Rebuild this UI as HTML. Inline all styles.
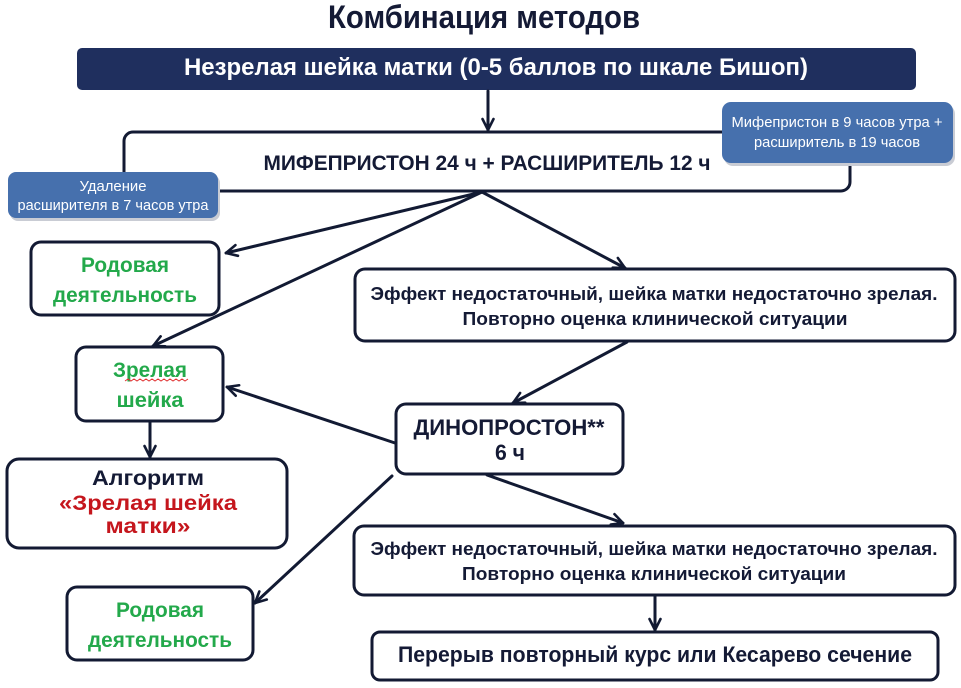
<!DOCTYPE html>
<html>
<head>
<meta charset="utf-8">
<style>
  html,body{margin:0;padding:0;background:#ffffff;}
  svg{display:block;}
  text{font-family:"Liberation Sans", Arial, sans-serif;font-weight:bold;}
  text.n{font-weight:normal;}
</style>
</head>
<body>
<svg width="961" height="688" viewBox="0 0 961 688" xmlns="http://www.w3.org/2000/svg">
  <defs>
    <marker id="ah" viewBox="0 0 14 14" refX="12.5" refY="7" markerWidth="14" markerHeight="14" markerUnits="userSpaceOnUse" orient="auto">
      <path d="M1.5,1.5 L12.5,7 L1.5,12.5" fill="none" stroke="#121a33" stroke-width="2.6" stroke-linecap="round" stroke-linejoin="round"/>
    </marker>
  </defs>
  <rect x="0" y="0" width="961" height="688" fill="#ffffff"/>

  <!-- Title -->
  <text x="484" y="28" font-size="32" fill="#141a35" text-anchor="middle" textLength="312" lengthAdjust="spacingAndGlyphs">Комбинация методов</text>

  <!-- Banner -->
  <rect x="77" y="48" width="839" height="42" rx="5" fill="#1f2f5e"/>
  <text x="496" y="75" font-size="24" fill="#ffffff" text-anchor="middle" textLength="624" lengthAdjust="spacingAndGlyphs">Незрелая шейка матки (0-5 баллов по шкале Бишоп)</text>

  <!-- Main box -->
  <rect x="124" y="132" width="726" height="59" rx="9" fill="#ffffff" stroke="#131a33" stroke-width="3"/>
  <text x="487" y="170" font-size="21" fill="#141a35" text-anchor="middle" textLength="447" lengthAdjust="spacingAndGlyphs">МИФЕПРИСТОН 24 ч + РАСШИРИТЕЛЬ 12 ч</text>

  <!-- Right blue box -->
  <rect x="724" y="105" width="231" height="61" rx="9" fill="#c9ccd4"/>
  <rect x="722" y="102" width="231" height="61" rx="9" fill="#4670ad"/>
  <text class="n" x="837" y="127" font-size="15" fill="#ffffff" text-anchor="middle" textLength="211" lengthAdjust="spacingAndGlyphs">Мифепристон в 9 часов утра +</text>
  <text class="n" x="837" y="147" font-size="15" fill="#ffffff" text-anchor="middle" textLength="166" lengthAdjust="spacingAndGlyphs">расширитель в 19 часов</text>

  <!-- Left blue box -->
  <rect x="10" y="175" width="210" height="46" rx="8" fill="#c9ccd4"/>
  <rect x="8" y="172" width="210" height="46" rx="8" fill="#4670ad"/>
  <text class="n" x="113" y="191" font-size="15" fill="#ffffff" text-anchor="middle" textLength="67" lengthAdjust="spacingAndGlyphs">Удаление</text>
  <text class="n" x="113" y="210" font-size="15" fill="#ffffff" text-anchor="middle" textLength="191" lengthAdjust="spacingAndGlyphs">расширителя в 7 часов утра</text>

  <!-- Родовая 1 -->
  <rect x="31" y="242" width="188" height="73" rx="10" fill="#ffffff" stroke="#131a33" stroke-width="3"/>
  <text x="125" y="272" font-size="21" fill="#23a94b" text-anchor="middle" textLength="88" lengthAdjust="spacingAndGlyphs">Родовая</text>
  <text x="125" y="302" font-size="21" fill="#23a94b" text-anchor="middle" textLength="144" lengthAdjust="spacingAndGlyphs">деятельность</text>

  <!-- Effect 1 -->
  <rect x="355" y="269" width="600" height="72" rx="10" fill="#ffffff" stroke="#131a33" stroke-width="3"/>
  <text x="654" y="300" font-size="18" fill="#141a35" text-anchor="middle" textLength="567" lengthAdjust="spacingAndGlyphs">Эффект недостаточный, шейка матки недостаточно зрелая.</text>
  <text x="655" y="325" font-size="18" fill="#141a35" text-anchor="middle" textLength="385" lengthAdjust="spacingAndGlyphs">Повторно оценка клинической ситуации</text>

  <!-- Зрелая шейка -->
  <rect x="76" y="347" width="147" height="74" rx="10" fill="#ffffff" stroke="#131a33" stroke-width="3"/>
  <text x="150" y="377" font-size="21" fill="#23a94b" text-anchor="middle" textLength="74" lengthAdjust="spacingAndGlyphs">Зрелая</text>
  <path d="M125,381 l3,-2 l3,2 l3,-2 l3,2 l3,-2 l3,2 l3,-2 l3,2 l3,-2 l3,2 l3,-2 l3,2 l3,-2 l3,2 l3,-2 l3,2 l3,-2 l3,2 l3,-2 l3,2 l3,-2" fill="none" stroke="#e03030" stroke-width="1"/>
  <text x="150" y="407" font-size="21" fill="#23a94b" text-anchor="middle" textLength="67" lengthAdjust="spacingAndGlyphs">шейка</text>

  <!-- Алгоритм -->
  <rect x="7" y="459" width="280" height="89" rx="12" fill="#ffffff" stroke="#131a33" stroke-width="3"/>
  <text x="148" y="485" font-size="21" fill="#141a35" text-anchor="middle" textLength="112" lengthAdjust="spacingAndGlyphs">Алгоритм</text>
  <text x="148" y="510" font-size="21" fill="#c5161d" text-anchor="middle" textLength="178" lengthAdjust="spacingAndGlyphs">«Зрелая шейка</text>
  <text x="148" y="533" font-size="21" fill="#c5161d" text-anchor="middle" textLength="85" lengthAdjust="spacingAndGlyphs">матки»</text>

  <!-- Динопростон -->
  <rect x="396" y="404" width="227" height="70" rx="10" fill="#ffffff" stroke="#131a33" stroke-width="3"/>
  <text x="509" y="435" font-size="22" fill="#141a35" text-anchor="middle" textLength="191" lengthAdjust="spacingAndGlyphs">ДИНОПРОСТОН**</text>
  <text x="510" y="460" font-size="22" fill="#141a35" text-anchor="middle" textLength="30" lengthAdjust="spacingAndGlyphs">6 ч</text>

  <!-- Effect 2 -->
  <rect x="354" y="526" width="601" height="69" rx="10" fill="#ffffff" stroke="#131a33" stroke-width="3"/>
  <text x="654" y="555" font-size="18" fill="#141a35" text-anchor="middle" textLength="567" lengthAdjust="spacingAndGlyphs">Эффект недостаточный, шейка матки недостаточно зрелая.</text>
  <text x="654" y="580" font-size="18" fill="#141a35" text-anchor="middle" textLength="384" lengthAdjust="spacingAndGlyphs">Повторно оценка клинической ситуации</text>

  <!-- Перерыв -->
  <rect x="372" y="632" width="566" height="48" rx="8" fill="#ffffff" stroke="#131a33" stroke-width="3"/>
  <text x="655" y="662" font-size="22" fill="#141a35" text-anchor="middle" textLength="514" lengthAdjust="spacingAndGlyphs">Перерыв повторный курс или Кесарево сечение</text>

  <!-- Родовая 2 -->
  <rect x="67" y="587" width="186" height="73" rx="10" fill="#ffffff" stroke="#131a33" stroke-width="3"/>
  <text x="160" y="617" font-size="21" fill="#23a94b" text-anchor="middle" textLength="88" lengthAdjust="spacingAndGlyphs">Родовая</text>
  <text x="160" y="647" font-size="21" fill="#23a94b" text-anchor="middle" textLength="144" lengthAdjust="spacingAndGlyphs">деятельность</text>

  <!-- Connectors -->
  <g stroke="#121a33" stroke-width="3" fill="none" stroke-linecap="round" marker-end="url(#ah)">
    <line x1="488" y1="91" x2="488" y2="130"/>
    <line x1="482" y1="192" x2="226" y2="253"/>
    <line x1="482" y1="192" x2="153" y2="346"/>
    <line x1="482" y1="192" x2="625" y2="268"/>
    <line x1="627" y1="342" x2="513" y2="403"/>
    <line x1="395" y1="443" x2="227" y2="387"/>
    <line x1="392" y1="476" x2="255" y2="603"/>
    <line x1="487" y1="475" x2="623" y2="523"/>
    <line x1="150" y1="422" x2="150" y2="457"/>
    <line x1="655" y1="596" x2="655" y2="630"/>
  </g>
</svg>
</body>
</html>
